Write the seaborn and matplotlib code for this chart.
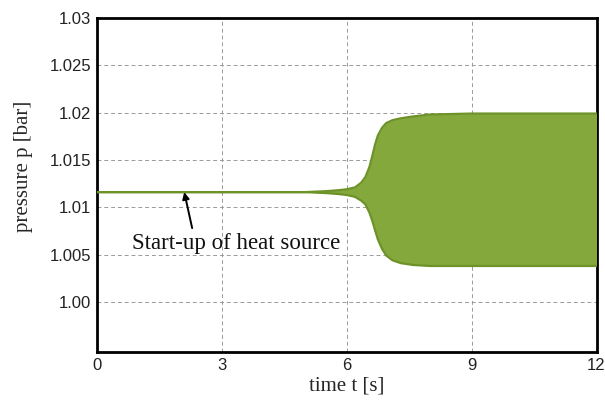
import matplotlib
matplotlib.use("Agg")
import matplotlib.pyplot as plt
import seaborn as sns
import pandas as pd

# envelope of the pressure oscillation
time_s = [0, 1, 2, 3, 4, 5, 5.5, 5.8, 6.0, 6.2, 6.35, 6.45, 6.55, 6.62, 6.68, 6.75, 6.85, 6.95, 7.1, 7.3, 7.6, 8.0, 9, 10, 11, 12]
p_upper = [1.0116, 1.0116, 1.0116, 1.0116, 1.0116, 1.0116, 1.0117, 1.0118, 1.0119, 1.0121, 1.0126, 1.0132, 1.0143, 1.0155, 1.0166, 1.0176, 1.0184, 1.0189, 1.0192, 1.0194, 1.0196, 1.0198, 1.0199, 1.0199, 1.0199, 1.0199]
p_lower = [1.0116, 1.0116, 1.0116, 1.0116, 1.0116, 1.0116, 1.0115, 1.0114, 1.0113, 1.0111, 1.0107, 1.0103, 1.0094, 1.0085, 1.0076, 1.0066, 1.0056, 1.0049, 1.0044, 1.0041, 1.0039, 1.0038, 1.0038, 1.0038, 1.0038, 1.0038]

x_ticks = [0, 3, 6, 9, 12]
y_ticks = [1.00, 1.005, 1.01, 1.015, 1.02, 1.025, 1.03]
y_ticklabels = ["1.00", "1.005", "1.01", "1.015", "1.02", "1.025", "1.03"]

annot_text = "Start-up of heat source"
annot_tip = (2.10, 1.0116)
annot_tail = (2.29, 1.0078)
annot_pos = (0.85, 1.0062)

df = pd.DataFrame({"t": time_s, "upper": p_upper, "lower": p_lower})

sns.set_style("white")
fig = plt.figure(figsize=(6.05, 4.08), dpi=100)
ax = fig.add_axes([0.160, 0.137, 0.826, 0.819])

fill_c = "#84a83c"
edge_c = "#6d9228"
ax.fill_between(df["t"], df["lower"], df["upper"], color=fill_c, linewidth=0, zorder=3)
sns.lineplot(data=df, x="t", y="upper", ax=ax, color=edge_c, linewidth=1.6, zorder=4)
sns.lineplot(data=df, x="t", y="lower", ax=ax, color=edge_c, linewidth=1.6, zorder=4)

ax.set_xlim(0, 12)
ax.set_ylim(0.9947, 1.03)
ax.set_xticks(x_ticks)
ax.set_xticklabels([str(v) for v in x_ticks])
ax.set_yticks(y_ticks)
ax.set_yticklabels(y_ticklabels)
ax.tick_params(length=0, labelsize=12, pad=4)
for lab in ax.get_xticklabels() + ax.get_yticklabels():
    lab.set_fontfamily(["Liberation Sans", "DejaVu Sans"])
    lab.set_color("#222222")

ax.grid(True, color="#9a9a9a", linestyle=(0, (4, 3)), linewidth=0.7, zorder=1)
for s in ax.spines.values():
    s.set_visible(True)
    s.set_color("black")
    s.set_linewidth(2.0)

serif = ["Liberation Serif", "DejaVu Serif"]
ax.set_xlabel("time t [s]", fontsize=15, family=serif, labelpad=3)
ax.set_ylabel("pressure p [bar]", fontsize=15, family=serif)
ax.yaxis.set_label_coords(-0.128, 0.557)

ax.annotate("", xy=annot_tip, xytext=annot_tail,
            arrowprops=dict(arrowstyle="-|>", color="black", lw=1.4,
                            mutation_scale=10, shrinkA=0, shrinkB=0), zorder=6)
ax.text(annot_pos[0], annot_pos[1], annot_text, fontsize=16.5, family=serif,
        ha="left", va="center", color="#111111", zorder=6)

fig.savefig("out.png", dpi=100)
